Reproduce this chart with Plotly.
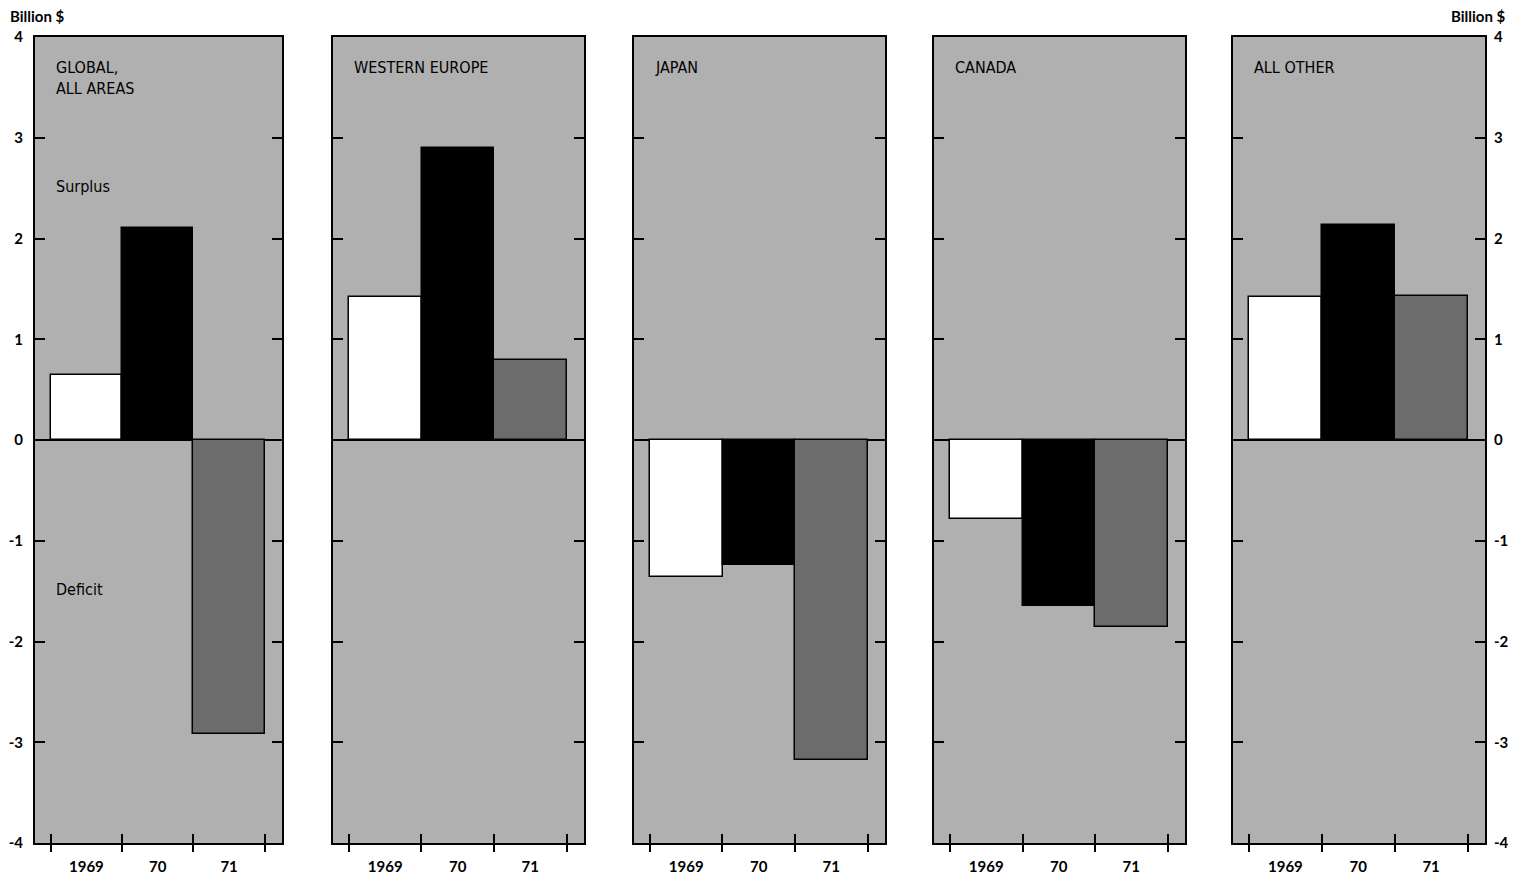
import plotly.graph_objects as go

# trade balance by area, billion $
regions = ["GLOBAL,<br>ALL AREAS", "WESTERN EUROPE", "JAPAN", "CANADA", "ALL OTHER"]
years = ["1969", "70", "71"]
v1969 = [0.65, 1.42, -1.36, -0.78, 1.42]
v1970 = [2.10, 2.90, -1.24, -1.65, 2.13]
v1971 = [-2.92, 0.79, -3.18, -1.86, 1.43]
y_ticks = [-4, -3, -2, -1, 0, 1, 2, 3, 4]

BG = "#b0b0b0"
BAR_COLORS = ["#ffffff", "#000000", "#6c6c6c"]
BOLD = dict(family="Lato, DejaVu Sans, sans-serif", size=15, color="#000", weight=700)
NARROW = dict(family="Liberation Sans Narrow, DejaVu Sans Condensed, sans-serif",
              size=16, color="#000")

# panel extents inside the plot area (width 1450 px)
domains = [(0.0, 0.1703), (0.2055, 0.3786), (0.4131, 0.5862),
           (0.6200, 0.7931), (0.8262, 1.0)]
x_range = [-0.72, 2.74]
bounds = [-0.5, 0.5, 1.5, 2.5]


def sfx(k):
    return "" if k == 1 else str(k)


fig = go.Figure()
n = len(regions)
for i in range(n):
    k = i + 1
    s = sfx(k)
    fig.add_trace(go.Bar(
        x=[0, 1, 2], y=[v1969[i], v1970[i], v1971[i]], width=1,
        marker=dict(color=BAR_COLORS, line=dict(color="#000", width=1.5)),
        xaxis=f"x{s}", yaxis=f"y{s}", showlegend=False, hoverinfo="y",
    ))
    # empty trace so the overlay axis (inner boundary ticks) is drawn
    fig.add_trace(go.Scatter(x=[], y=[], xaxis=f"x{k + n}", yaxis=f"y{s}",
                             showlegend=False, hoverinfo="skip"))

    fig.layout[f"xaxis{k}"] = dict(
        domain=list(domains[i]), anchor=f"y{s}", range=x_range,
        tickmode="array", tickvals=[0, 1, 2], ticktext=years, ticks="",
        tickfont=BOLD, ticklabelstandoff=9, automargin=False,
        minor=dict(tickmode="array", tickvals=bounds, ticks="outside",
                   ticklen=7, tickwidth=1.5, tickcolor="#000"),
        showline=True, linecolor="#000", linewidth=2, mirror=True,
        showgrid=False, zeroline=False, fixedrange=True,
    )
    # overlay axis giving the inward half of the category boundary ticks
    fig.layout[f"xaxis{k + n}"] = dict(
        overlaying=f"x{s}", anchor=f"y{s}", side="bottom", range=x_range,
        tickmode="array", tickvals=bounds, ticks="inside", ticklen=9,
        tickwidth=1.5, tickcolor="#000", showticklabels=False,
        showline=False, showgrid=False, zeroline=False, fixedrange=True,
        automargin=False,
    )
    last = i == n - 1
    fig.layout[f"yaxis{k}"] = dict(
        domain=[0, 1], anchor=f"x{s}", range=[-4, 4],
        tickmode="array", tickvals=y_ticks, ticktext=[str(t) for t in y_ticks],
        ticks="inside", ticklen=10, tickwidth=1.5, tickcolor="#000",
        showticklabels=i in (0, n - 1), side="right" if last else "left",
        tickfont=BOLD, ticklabelstandoff=4 if last else 7, automargin=False,
        showline=True, linecolor="#000", linewidth=2, mirror="ticks",
        showgrid=False, zeroline=True, zerolinecolor="#000", zerolinewidth=2,
        fixedrange=True,
    )
    fig.add_annotation(
        text=regions[i], xref=f"x{s} domain", yref=f"y{s} domain",
        x=0.075, y=0.977, xanchor="left", yanchor="top", align="left",
        showarrow=False, font=NARROW,
    )
    fig.add_shape(type="rect", xref=f"x{s} domain", yref=f"y{s} domain",
                  x0=0, x1=1, y0=0, y1=1, fillcolor=BG, line_width=0,
                  layer="below")

fig.add_annotation(text="Surplus", xref="x domain", yref="y", x=0.075, y=2.52,
                   xanchor="left", showarrow=False, font=NARROW)
fig.add_annotation(text="Deficit", xref="x domain", yref="y", x=0.075, y=-1.48,
                   xanchor="left", showarrow=False, font=NARROW)
fig.add_annotation(text="Billion $", xref="paper", yref="paper", x=-0.0186,
                   y=1.026, xanchor="left", yanchor="middle", showarrow=False,
                   font=dict(BOLD, size=15))
fig.add_annotation(text="Billion $", xref="paper", yref="paper", x=1.0159,
                   y=1.026, xanchor="right", yanchor="middle", showarrow=False,
                   font=dict(BOLD, size=15))

# the page body adds an 8 px offset, so margins are shifted to compensate
fig.update_layout(
    width=1521, height=876,
    margin=dict(l=27, r=44, t=29, b=41, autoexpand=False),
    paper_bgcolor="#ffffff", plot_bgcolor="rgba(0,0,0,0)",
    bargap=0,
)

fig.write_html("out.html")
